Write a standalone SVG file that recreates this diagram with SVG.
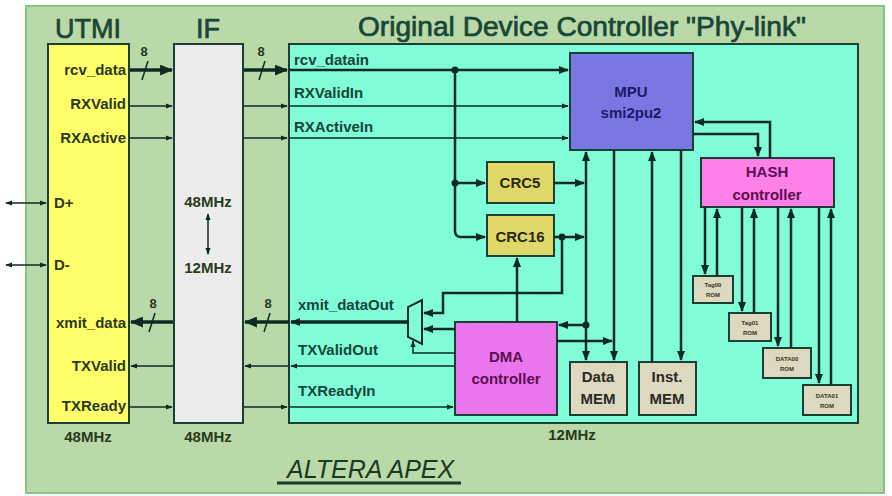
<svg xmlns="http://www.w3.org/2000/svg" width="892" height="496" viewBox="0 0 892 496">
<defs>
<style>
text{font-family:"Liberation Sans",Arial,sans-serif;}
.ttl{font-size:27px;fill:#1a4636;stroke:#1a4636;stroke-width:0.7;text-anchor:middle;}
.lb{font-size:15px;font-weight:bold;fill:#2a3a1a;}
.cl{font-size:15px;font-weight:bold;fill:#16463a;}
.bx{stroke:#1d3f33;stroke-width:2;}
.nt{font-size:15px;font-weight:bold;text-anchor:middle;}
.rt{font-size:6px;font-weight:bold;text-anchor:middle;fill:#3a3020;}
.w{fill:none;stroke:#0d2b22;stroke-width:2.5;}
.s{fill:none;stroke:#0d2b22;stroke-width:1.5;}
.bus{fill:none;stroke:#0d2b22;stroke-width:3.5;}
.dot{fill:#0d2b22;}
</style>
<marker id="b" viewBox="0 0 12 10" refX="11" refY="5" markerWidth="13" markerHeight="11" markerUnits="userSpaceOnUse" orient="auto"><path d="M0,0L12,5L0,10z" fill="#0d2b22"/></marker>
<marker id="a" viewBox="0 0 10 8" refX="9" refY="4" markerWidth="10" markerHeight="9" markerUnits="userSpaceOnUse" orient="auto-start-reverse"><path d="M0,0L10,4L0,8z" fill="#0d2b22"/></marker>
<marker id="sm" viewBox="0 0 8 6" refX="7" refY="3" markerWidth="7" markerHeight="6" markerUnits="userSpaceOnUse" orient="auto-start-reverse"><path d="M0,0L8,3L0,6z" fill="#0d2b22"/></marker>
</defs>

<rect x="26" y="6" width="858" height="487" fill="#b9d9a9" stroke="#86c486" stroke-width="2"/>

<g id="utmi">
<rect x="48" y="44" width="81" height="379" fill="#ffff6a" class="bx"/>
<text class="ttl" x="88" y="38">UTMI</text>
<text class="lb" x="126" y="75" text-anchor="end">rcv_data</text>
<text class="lb" x="126" y="109" text-anchor="end">RXValid</text>
<text class="lb" x="126" y="143" text-anchor="end">RXActive</text>
<text class="lb" x="54" y="208">D+</text>
<text class="lb" x="54" y="270">D-</text>
<text class="lb" x="126" y="328" text-anchor="end">xmit_data</text>
<text class="lb" x="126" y="371" text-anchor="end">TXValid</text>
<text class="lb" x="126" y="411" text-anchor="end">TXReady</text>
<text class="lb" x="88" y="442" text-anchor="middle" fill="#2a4a2a">48MHz</text>
</g>

<g id="if">
<rect x="174" y="44" width="69" height="379" fill="#ececec" class="bx"/>
<text class="ttl" x="208" y="38">IF</text>
<text class="lb" x="208" y="207" text-anchor="middle">48MHz</text>
<text class="lb" x="208" y="273" text-anchor="middle">12MHz</text>
<text class="lb" x="208" y="442" text-anchor="middle" fill="#2a4a2a">48MHz</text>
</g>

<g id="controller">
<rect x="289" y="44" width="569" height="379" fill="#80fcd8" class="bx"/>
<text class="ttl" x="582" y="36" textLength="448" lengthAdjust="spacingAndGlyphs">Original Device Controller "Phy-link"</text>
<text class="cl" x="294" y="65">rcv_datain</text>
<text class="cl" x="294" y="98">RXValidIn</text>
<text class="cl" x="294" y="132">RXActiveIn</text>
<text class="cl" x="298" y="310">xmit_dataOut</text>
<text class="cl" x="298" y="355">TXValidOut</text>
<text class="cl" x="298" y="396">TXReadyIn</text>
<text class="lb" x="572" y="440" text-anchor="middle" fill="#2a4a2a">12MHz</text>
</g>

<g id="mpu">
<rect x="570" y="53" width="123" height="97" fill="#7878e4" class="bx"/>
<text class="nt" x="631" y="97" fill="#1a1a6a">MPU</text>
<text class="nt" x="631" y="118" fill="#1a1a6a">smi2pu2</text>
</g>

<g id="hash">
<rect x="701" y="158" width="133" height="49" fill="#ff80e8" class="bx"/>
<text class="nt" x="767" y="177" fill="#5a1050">HASH</text>
<text class="nt" x="767" y="200" fill="#5a1050">controller</text>
</g>

<g id="crc5">
<rect x="487" y="162" width="67" height="41" fill="#e0d868" class="bx"/>
<text class="nt" x="520" y="188" fill="#2a2a10">CRC5</text>
</g>
<g id="crc16">
<rect x="487" y="215" width="67" height="41" fill="#e0d868" class="bx"/>
<text class="nt" x="520" y="242" fill="#2a2a10">CRC16</text>
</g>

<g id="dma">
<rect x="455" y="322" width="102" height="93" fill="#ea76ee" class="bx"/>
<text class="nt" x="506" y="362" fill="#5a1050">DMA</text>
<text class="nt" x="506" y="384" fill="#5a1050">controller</text>
</g>

<g id="datamem">
<rect x="570" y="362" width="57" height="53" fill="#ddd8c0" class="bx"/>
<text class="nt" x="598" y="382" fill="#2a2a20">Data</text>
<text class="nt" x="598" y="404" fill="#2a2a20">MEM</text>
</g>
<g id="instmem">
<rect x="639" y="362" width="57" height="53" fill="#ddd8c0" class="bx"/>
<text class="nt" x="667" y="382" fill="#2a2a20">Inst.</text>
<text class="nt" x="667" y="404" fill="#2a2a20">MEM</text>
</g>

<g id="rom-tag00">
<rect x="693" y="276" width="40" height="27" fill="#ddd8c0" class="bx"/>
<text class="rt" x="713" y="287">Tag00</text>
<text class="rt" x="713" y="297">ROM</text>
</g>
<g id="rom-tag01">
<rect x="729" y="313" width="42" height="28" fill="#ddd8c0" class="bx"/>
<text class="rt" x="750" y="325">Tag01</text>
<text class="rt" x="750" y="335">ROM</text>
</g>
<g id="rom-data00">
<rect x="763" y="348" width="48" height="30" fill="#ddd8c0" class="bx"/>
<text class="rt" x="787" y="361">DATA00</text>
<text class="rt" x="787" y="371">ROM</text>
</g>
<g id="rom-data01">
<rect x="803" y="385" width="48" height="30" fill="#ddd8c0" class="bx"/>
<text class="rt" x="827" y="398">DATA01</text>
<text class="rt" x="827" y="408">ROM</text>
</g>

<g id="mux">
<polygon points="422,300 422,344 408,337 408,307" fill="#80fcd8" stroke="#0d2b22" stroke-width="2"/>
</g>

<g id="connectors">
<path class="s" d="M6,203H46" marker-start="url(#sm)" marker-end="url(#sm)"/>
<path class="s" d="M6,265H46" marker-start="url(#sm)" marker-end="url(#sm)"/>
<path class="s" d="M208,214V254" marker-start="url(#sm)" marker-end="url(#sm)"/>
<path class="bus" d="M130,70H172" marker-end="url(#b)"/>
<path class="s" d="M142,80L148,61"/>
<text class="lb" x="144" y="56" style="font-size:13px" text-anchor="middle">8</text>
<path class="bus" d="M244,70H287" marker-end="url(#b)"/>
<path class="s" d="M259,80L265,61"/>
<text class="lb" x="261" y="56" style="font-size:13px" text-anchor="middle">8</text>
<path class="w" d="M290,70H568" marker-end="url(#a)"/>
<path class="s" d="M130,106H172" marker-end="url(#sm)"/>
<path class="s" d="M244,106H287" marker-end="url(#sm)"/>
<path class="s" d="M290,106H568" marker-end="url(#sm)"/>
<path class="s" d="M130,138H172" marker-end="url(#sm)"/>
<path class="s" d="M244,138H287" marker-end="url(#sm)"/>
<path class="s" d="M290,138H568" marker-end="url(#sm)"/>
<path class="w" d="M455,70V231Q455,237 461,237H485" marker-end="url(#a)"/>
<path class="w" d="M455,183H485" marker-end="url(#a)"/>
<circle class="dot" cx="455" cy="70" r="3.5"/>
<circle class="dot" cx="455" cy="183" r="3.5"/>
<path class="w" d="M554,183H584" marker-end="url(#a)"/>
<path class="w" d="M554,237H584" marker-end="url(#a)"/>
<circle class="dot" cx="562" cy="237" r="3.5"/>
<path class="w" d="M586,360V152" marker-start="url(#a)" marker-end="url(#a)"/>
<path class="w" d="M586,325H559" marker-end="url(#a)"/>
<circle class="dot" cx="586" cy="325" r="3.5"/>
<path class="w" d="M557,341H612" marker-end="url(#a)"/>
<path class="w" d="M614,150V360" marker-end="url(#a)"/>
<path class="w" d="M652,362V152" marker-end="url(#a)"/>
<path class="w" d="M681,150V360" marker-end="url(#a)"/>
<path class="w" d="M770,158V122H695" marker-end="url(#a)"/>
<path class="w" d="M693,134H758V156" marker-end="url(#a)"/>
<path class="w" d="M705,207V274" marker-end="url(#a)"/>
<path class="w" d="M717,276V209" marker-end="url(#a)"/>
<path class="w" d="M742,207V311" marker-end="url(#a)"/>
<path class="w" d="M754,313V209" marker-end="url(#a)"/>
<path class="w" d="M778,207V346" marker-end="url(#a)"/>
<path class="w" d="M791,348V209" marker-end="url(#a)"/>
<path class="w" d="M819,207V383" marker-end="url(#a)"/>
<path class="w" d="M831,385V209" marker-end="url(#a)"/>
<path class="w" d="M562,237V293H443V313H424" marker-end="url(#a)"/>
<path class="w" d="M455,329H424" marker-end="url(#a)"/>
<path class="w" d="M517,322V258" marker-end="url(#a)"/>
<path class="s" d="M455,353H413V341" marker-end="url(#sm)"/>
<path class="bus" d="M408,322H291" marker-end="url(#a)"/>
<path class="bus" d="M289,322H245" marker-end="url(#b)"/>
<path class="s" d="M264,332L270,313"/>
<text class="lb" x="268" y="308" style="font-size:13px" text-anchor="middle">8</text>
<path class="bus" d="M173,322H131" marker-end="url(#b)"/>
<path class="s" d="M149,332L155,313"/>
<text class="lb" x="153" y="308" style="font-size:13px" text-anchor="middle">8</text>
<path class="s" d="M455,366H291" marker-end="url(#sm)"/>
<path class="s" d="M289,366H245" marker-end="url(#sm)"/>
<path class="s" d="M173,366H131" marker-end="url(#sm)"/>
<path class="s" d="M130,407H172" marker-end="url(#sm)"/>
<path class="s" d="M244,407H287" marker-end="url(#sm)"/>
<path class="s" d="M290,407H453" marker-end="url(#sm)"/>
</g>

<g id="label-altera">
<text x="287" y="478" style="font-size:25px;font-style:italic;fill:#1a3a22">ALTERA APEX</text>
<line x1="277" y1="483" x2="461" y2="483" stroke="#1a3a22" stroke-width="3"/>
</g>
</svg>
